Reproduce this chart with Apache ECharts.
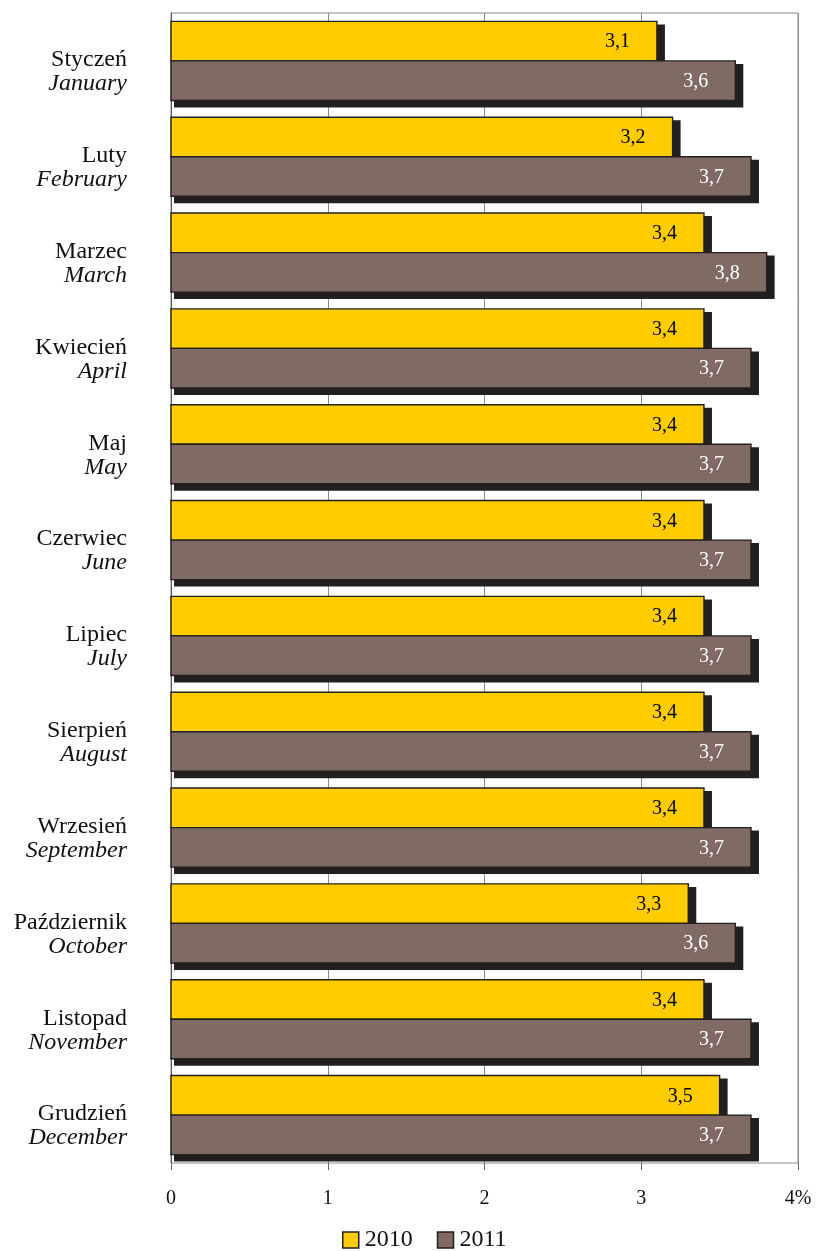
<!DOCTYPE html>
<html>
<head>
<meta charset="utf-8">
<script src="https://cdn.jsdelivr.net/npm/echarts@6/dist/echarts.min.js"></script>
<style>
  html, body { margin: 0; padding: 0; background: #fff; }
  #chart { width: 826px; height: 1251px; }
</style>
</head>
<body>
<div id="chart"></div>
<script>
// Monthly values, 2010 vs 2011 (%)
const monthsPl = ['Styczeń', 'Luty', 'Marzec', 'Kwiecień', 'Maj', 'Czerwiec', 'Lipiec', 'Sierpień', 'Wrzesień', 'Październik', 'Listopad', 'Grudzień'];
const monthsEn = ['January', 'February', 'March', 'April', 'May', 'June', 'July', 'August', 'September', 'October', 'November', 'December'];
const values2010 = [3.1, 3.2, 3.4, 3.4, 3.4, 3.4, 3.4, 3.4, 3.4, 3.3, 3.4, 3.5];
const values2011 = [3.6, 3.7, 3.8, 3.7, 3.7, 3.7, 3.7, 3.7, 3.7, 3.6, 3.7, 3.7];
const xTickLabels = ['0', '1', '2', '3', '4%'];

const FONT = '"Liberation Serif", "Times New Roman", serif';
const OUTLINE = '#231f20';
const COLOR_2010 = '#ffcc00';
const COLOR_2011 = '#7f6b64';
const categories = monthsPl.map((pl, i) => pl + '\n' + monthsEn[i]);

const fmt = v => String(v).replace('.', ',');

// Paired horizontal bars with a hard drop shadow drawn beneath each bar
function makeRenderer(slot, fill, textColor) {
  return function (params, api) {
    const val = api.value(0);
    const cat = api.value(1);
    const start = api.coord([0, cat]);
    const end = api.coord([val, cat]);
    const band = api.size([0, 1])[1];
    const barH = band * (1 - 0.175) / 2;
    const y0 = slot === 0 ? start[1] - barH : start[1];
    const x0 = start[0];
    const w = end[0] - start[0];
    return {
      type: 'group',
      children: [
        {
          type: 'rect',
          shape: { x: x0 + 3, y: y0 + 3, width: w + 5, height: barH + 4 },
          style: { fill: OUTLINE }
        },
        {
          type: 'rect',
          shape: { x: x0, y: y0, width: w, height: barH },
          style: { fill: fill, stroke: OUTLINE, lineWidth: 1.4 }
        },
        {
          type: 'text',
          style: {
            text: fmt(val),
            x: end[0] - 27,
            y: y0 + barH / 2 + 1,
            align: 'right',
            verticalAlign: 'middle',
            fill: textColor,
            font: '20px ' + FONT
          }
        }
      ]
    };
  };
}

const chart = echarts.init(document.getElementById('chart'));
chart.setOption({
  animation: false,
  backgroundColor: '#fff',
  grid: {
    left: 171, right: 28, top: 13, bottom: 88,
    show: true, borderColor: '#8a8a8a', borderWidth: 1
  },
  legend: {
    top: 1228,
    left: 342,
    padding: 0,
    itemWidth: 16,
    itemHeight: 16,
    itemGap: 24,
    textStyle: { fontFamily: FONT, fontSize: 24, color: '#111', padding: [0, 0, 0, 1] },
    data: [
      { name: '2010', icon: 'rect', itemStyle: { color: COLOR_2010, borderColor: OUTLINE, borderWidth: 1.5 } },
      { name: '2011', icon: 'rect', itemStyle: { color: COLOR_2011, borderColor: OUTLINE, borderWidth: 1.5 } }
    ]
  },
  xAxis: {
    type: 'value',
    min: 0,
    max: 4,
    interval: 1,
    axisLine: { show: false },
    axisTick: { show: true, length: 7, lineStyle: { color: '#666' } },
    splitLine: { show: true, lineStyle: { color: '#8a8a8a', width: 1 } },
    axisLabel: {
      margin: 26,
      fontFamily: FONT,
      fontSize: 20,
      color: '#111',
      formatter: (v) => xTickLabels[Math.round(v)]
    }
  },
  yAxis: {
    type: 'category',
    inverse: true,
    data: categories,
    axisLine: { show: true, lineStyle: { color: '#555', width: 1 } },
    axisTick: { show: false },
    axisLabel: {
      margin: 44,
      align: 'right',
      padding: [22, 0, 0, 0],
      formatter: (v) => {
        const parts = v.split('\n');
        return '{pl|' + parts[0] + '}\n{en|' + parts[1] + '}';
      },
      rich: {
        pl: { fontFamily: FONT, fontSize: 24, color: '#111', lineHeight: 24, align: 'right' },
        en: { fontFamily: FONT, fontSize: 24, fontStyle: 'italic', color: '#111', lineHeight: 24, align: 'right' }
      }
    }
  },
  series: [
    {
      name: '2010',
      type: 'custom',
      itemStyle: { color: COLOR_2010 },
      encode: { x: 0, y: 1 },
      data: values2010.map((v, i) => [v, i]),
      renderItem: makeRenderer(0, COLOR_2010, '#000')
    },
    {
      name: '2011',
      type: 'custom',
      itemStyle: { color: COLOR_2011 },
      encode: { x: 0, y: 1 },
      data: values2011.map((v, i) => [v, i]),
      renderItem: makeRenderer(1, COLOR_2011, '#fff')
    }
  ]
});
</script>
</body>
</html>
